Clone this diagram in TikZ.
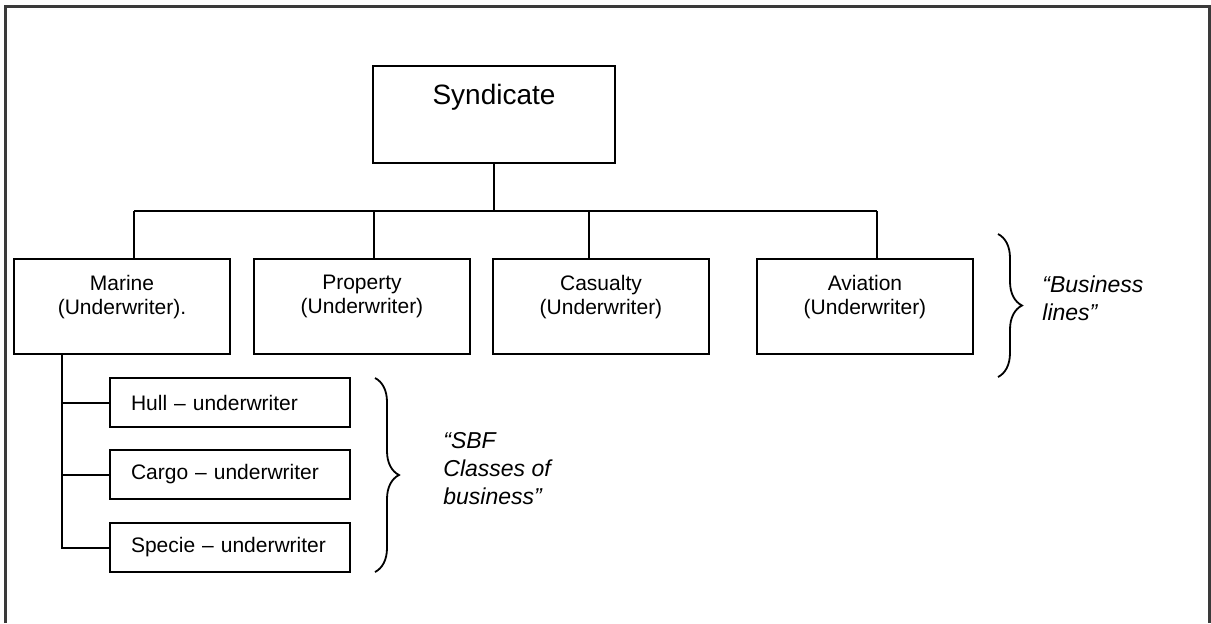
\documentclass[tikz,border=0pt]{standalone}
\usepackage{fontspec}
\setmainfont{Liberation Sans}
\usetikzlibrary{positioning,calc,decorations.pathreplacing}
\definecolor{OrgInk}{HTML}{000000}
\definecolor{OrgFrame}{HTML}{3A3A3A}
\tikzset{
  wire/.style={OrgInk,line width=1pt},
  headbox/.style={draw=OrgInk,line width=1pt,minimum width=121pt,minimum height=48.5pt,
                  inner sep=0pt,align=center,font=\fontsize{14}{16}\selectfont},
  linebox/.style={draw=OrgInk,line width=1pt,minimum width=108pt,minimum height=47.5pt,
                  inner sep=0pt,align=center,font=\fontsize{10.5}{12}\selectfont},
  classbox/.style={draw=OrgInk,line width=1pt,minimum width=120pt,minimum height=24.5pt,
                   text width=99pt,inner xsep=10.5pt,inner ysep=0pt,align=left,
                   font=\fontsize{10.5}{12}\selectfont},
  bracket/.style={decorate,decoration={brace,amplitude=12pt},OrgInk,line width=0.9pt},
  tag/.style={font=\fontsize{11.5}{13.8}\selectfont\itshape,align=left,anchor=west,inner sep=0pt},
  frame/.style={draw=OrgFrame,line width=1.5pt},
}
\begin{document}
\begin{tikzpicture}[x=.5pt,y=-.5pt]
    \useasboundingbox (0,0) rectangle (1211,623);
    % outer frame, its lower edge runs off the page
    \draw[frame] (5,623) |- (1209,6) -- (1209,623);

    % --- syndicate and business lines ---
    \node[headbox] (syn) at (494,114.5) {Syndicate\\[4pt]\mbox{}};
    \node[linebox] (marine) at (122,306.5) {Marine\\(Underwriter).\\\mbox{}};
    \node[linebox,right=11pt of marine] (property) {Property\\(Underwriter)\\\mbox{}};
    \node[linebox,right=10.5pt of property] (casualty) {Casualty\\(Underwriter)\\\mbox{}};
    \node[linebox,right=23pt of casualty] (aviation) {Aviation\\(Underwriter)\\\mbox{}};

    \coordinate (bus) at (0,210.5);
    \draw[wire] (syn.south) -- (syn.south |- bus);
    \draw[wire] ([xshift=6pt]marine.north |- bus) -- ([xshift=6pt]aviation.north |- bus);
    \foreach \n/\dx in {marine/6,property/6,casualty/-6,aviation/6}{
      \draw[wire] ([xshift=\dx pt]\n.north) -- ([xshift=\dx pt]\n.north |- bus);
    }

    % --- classes of business under marine ---
    \node[classbox] (hull) at (230,402.5) {Hull -- underwriter};
    \node[classbox,below=10.5pt of hull] (cargo) {Cargo -- underwriter};
    \node[classbox,below=11pt of cargo] (specie) {Specie -- underwriter};

    \coordinate (trunk) at ([xshift=-30pt]marine.south);
    \draw[wire] (trunk) |- (specie.west);
    \foreach \n in {hull,cargo}{
      \draw[wire] (\n.west) -- (\n.west -| trunk);
    }

    % --- braces and their tags ---
    \draw[bracket] (998,234) -- (998,377);
    \node[tag] (linestag) at (1042,298) {“Business\\lines”};
    \draw[bracket] (375,378) -- (375,572);
    \node[tag] (classtag) at (443,468.5) {“SBF\\Classes of\\business”};
  \end{tikzpicture}
\end{document}
